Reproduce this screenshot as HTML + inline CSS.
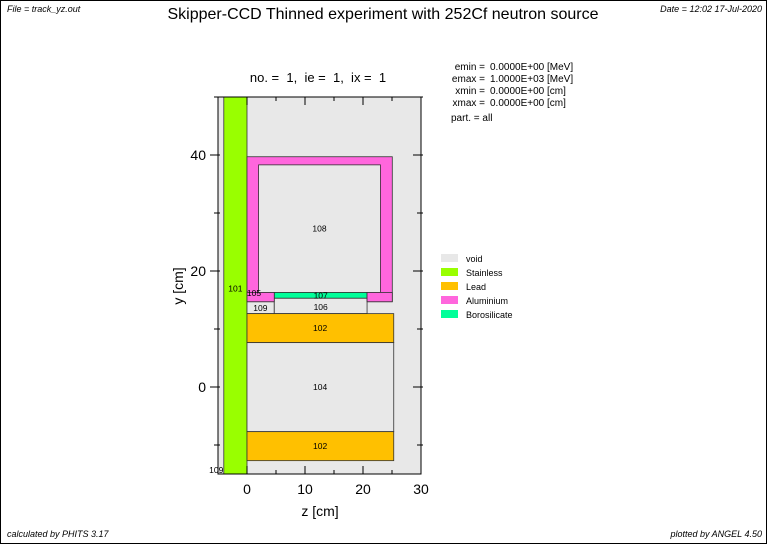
<!DOCTYPE html>
<html><head><meta charset="utf-8"><style>
body{margin:0;background:#fff}
svg{display:block;font-family:"Liberation Sans",sans-serif}
</style></head><body>
<svg width="767" height="544" viewBox="0 0 767 544">
<rect x="0.5" y="0.5" width="766" height="543" fill="#fff" stroke="#000"/>
<text x="7" y="12" font-size="9" font-style="italic">File = track_yz.out</text>
<text x="383" y="19" font-size="16" text-anchor="middle">Skipper-CCD Thinned experiment with 252Cf neutron source</text>
<text x="762" y="12" font-size="9" font-style="italic" text-anchor="end">Date = 12:02 17-Jul-2020</text>
<text x="318" y="82" font-size="13" text-anchor="middle" style="white-space:pre">no. =  1,  ie =  1,  ix =  1</text>
<g font-size="10">
<text x="485" y="70" text-anchor="end">emin  =</text><text x="490" y="70">0.0000E+00 [MeV]</text>
<text x="485" y="82" text-anchor="end">emax  =</text><text x="490" y="82">1.0000E+03 [MeV]</text>
<text x="485" y="94" text-anchor="end">xmin  =</text><text x="490" y="94">0.0000E+00 [cm]</text>
<text x="485" y="106" text-anchor="end">xmax  =</text><text x="490" y="106">0.0000E+00 [cm]</text>
<text x="451" y="121">part. = all</text>
</g>
<g id="plot"></g>
<g id="legend"></g>
<text x="7" y="537" font-size="9" font-style="italic">calculated by PHITS 3.17</text>
<text x="762" y="537" font-size="9" font-style="italic" text-anchor="end">plotted by ANGEL 4.50</text>
</svg>
<script>
const materials=["void","Stainless","Lead","Aluminium","Borosilicate"];
const matColors=["#e8e8e8","#99ff00","#ffc000","#ff66dd","#00ff99"];
// regions: [z0,z1,y0,y1,materialIndex,label]
const regionZ0=[-4,0,2,4.7,0,4.7,0,20.7,0,0,0];
const regionZ1=[0,25.05,23,20.7,4.7,20.7,4.7,25.05,25.3,25.3,25.3];
const regionY0=[-15,14.7,16.3,15.3,12.65,12.65,14.7,14.7,7.65,-7.7,-12.7];
const regionY1=[50,39.7,38.3,16.3,14.7,15.3,16.3,16.3,12.65,7.65,-7.7];
const regionMat=[1,3,0,4,0,0,3,3,2,0,2];
const regionLabel=["101","","108","107","109","106","105","","102","104","102"];
const xTicks=[0,10,20,30];
const yTicks=[0,20,40];
const L=218,R=421,T=97,B=474,zmin=-5,zmax=30,ymin=-15,ymax=50;
const sx=z=>L+(z-zmin)/(zmax-zmin)*(R-L);
const sy=y=>B-(y-ymin)/(ymax-ymin)*(B-T);
const NS="http://www.w3.org/2000/svg";
const plot=document.getElementById('plot');
function mk(t,a,p){const e=document.createElementNS(NS,t);for(const k in a)e.setAttribute(k,a[k]);(p||plot).appendChild(e);return e;}
const bg=mk('rect',{x:L,y:T,width:R-L,height:B-T,fill:"#e8e8e8"});


for(let i=0;i<regionZ0.length;i++){
 const r=mk('rect',{x:sx(regionZ0[i]),y:sy(regionY1[i]),width:sx(regionZ1[i])-sx(regionZ0[i]),height:sy(regionY0[i])-sy(regionY1[i]),fill:matColors[regionMat[i]],stroke:"#333","stroke-width":0.8});
 
 
}
const labs=[["101",-2,17],["108",12.5,27.3],["107",12.7,15.8],["106",12.7,13.8],["109",2.3,13.6],["105",1.2,16.2],["102",12.6,10.2],["104",12.6,0],["102",12.6,-10.2],["109",-5.3,-14.3]];
labs.forEach(l=>{const t=mk('text',{x:sx(l[1]),y:sy(l[2])+3,"font-size":8.5,"text-anchor":"middle"});t.textContent=l[0];
 
 });
const fr=mk('rect',{x:L,y:T,width:R-L,height:B-T,fill:"none",stroke:"#000","stroke-width":1});


for(let z=-5;z<=30;z+=5){const maj=z%10===0;
 mk('line',{x1:sx(z),x2:sx(z),y1:B,y2:B-(maj?8:4),stroke:"#000"});
 mk('line',{x1:sx(z),x2:sx(z),y1:T,y2:T+(maj?8:4),stroke:"#000"});}
for(let y=-10;y<=50;y+=10){const maj=y%20===0;
 mk('line',{x1:L-(maj?8:4),x2:L+2,y1:sy(y),y2:sy(y),stroke:"#000"});
 mk('line',{x1:R-(maj?8:4),x2:R+2,y1:sy(y),y2:sy(y),stroke:"#000"});}
xTicks.forEach(v=>{const t=mk('text',{x:sx(v),y:B+20,"font-size":14,"text-anchor":"middle"});t.textContent=v;
 
 });
yTicks.forEach(v=>{const t=mk('text',{x:L-12,y:sy(v)+5,"font-size":14,"text-anchor":"end"});t.textContent=v;
 
 });
const xt=mk('text',{x:320,y:516,"font-size":14,"text-anchor":"middle"});xt.textContent="z [cm]";


const yt=mk('text',{x:0,y:0,"font-size":14,"text-anchor":"middle",transform:"translate(183,286) rotate(-90)"});yt.textContent="y [cm]";


const lg=document.getElementById('legend');
materials.forEach((m,i)=>{const y=254+i*14;
 const s=mk('rect',{x:441,y:y,width:17,height:8,fill:matColors[i]},lg);
 
 
 const t=mk('text',{x:466,y:y+8,"font-size":9},lg);t.textContent=m;
 
 });
</script>
</body></html>
